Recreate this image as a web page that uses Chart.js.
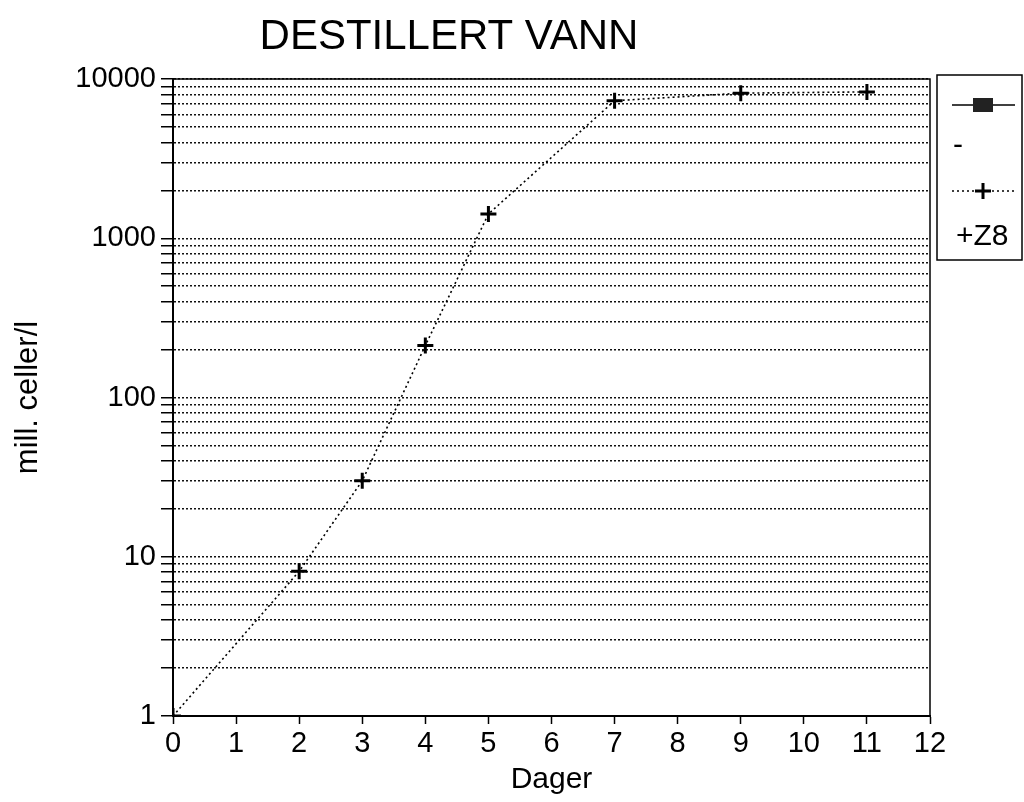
<!DOCTYPE html>
<html>
<head>
<meta charset="utf-8">
<script src="https://cdn.jsdelivr.net/npm/chart.js@4.4.0/dist/chart.umd.min.js"></script>
<style>
  html, body { margin: 0; padding: 0; background: #fff; }
  canvas { display: block; }
</style>
</head>
<body>
<canvas id="growthChart" width="1024" height="802"></canvas>
<script>
// data
const days = [0, 2, 3, 4, 5, 7, 9, 11];
const cells = [1, 8.1, 30, 212, 1420, 7300, 8150, 8300];
const xTickValues = [0, 1, 2, 3, 4, 5, 6, 7, 8, 9, 10, 11, 12];
const yTickValues = [1, 2, 3, 4, 5, 6, 7, 8, 9,
  10, 20, 30, 40, 50, 60, 70, 80, 90,
  100, 200, 300, 400, 500, 600, 700, 800, 900,
  1000, 2000, 3000, 4000, 5000, 6000, 7000, 8000, 9000, 10000];
const yLabelValues = [1, 10, 100, 1000, 10000];
const seriesNames = ['-', '+Z8'];
const chartTitle = 'DESTILLERT VANN';
const xTitle = 'Dager';
const yTitle = 'mill. celler/l';

const FONT = '"Liberation Sans", Arial, Helvetica, sans-serif';

// title + frame + the odd legend box on the right
const decorPlugin = {
  id: 'decor',
  afterDraw(chart) {
    const ctx = chart.ctx;
    const a = chart.chartArea;
    ctx.save();

    // frame around plot
    ctx.strokeStyle = '#000';
    ctx.lineWidth = 1.5;
    ctx.strokeRect(a.left, a.top, a.right - a.left, a.bottom - a.top);

    // title
    ctx.fillStyle = '#000';
    ctx.font = '42px ' + FONT;
    ctx.textAlign = 'center';
    ctx.textBaseline = 'alphabetic';
    ctx.fillText(chartTitle, 449, 49);

    // legend box
    ctx.lineWidth = 1.5;
    ctx.strokeRect(937, 75, 85, 185);

    const ds = chart.data.datasets;
    // entry 1: solid line with square
    ctx.strokeStyle = ds[0].borderColor;
    ctx.lineWidth = 1.5;
    ctx.beginPath();
    ctx.moveTo(952, 105);
    ctx.lineTo(1015, 105);
    ctx.stroke();
    ctx.fillStyle = ds[0].pointBackgroundColor;
    ctx.fillRect(973, 98, 20, 14);
    ctx.fillStyle = '#000';
    ctx.font = '30px ' + FONT;
    ctx.textAlign = 'left';
    ctx.textBaseline = 'middle';
    ctx.fillText(ds[0].label, 953, 146);

    // entry 2: dotted line with plus
    ctx.strokeStyle = '#000';
    ctx.lineWidth = 1.5;
    ctx.setLineDash([2, 3]);
    ctx.beginPath();
    ctx.moveTo(952, 191);
    ctx.lineTo(1015, 191);
    ctx.stroke();
    ctx.setLineDash([]);
    ctx.lineWidth = 3;
    ctx.beginPath();
    ctx.moveTo(975, 191); ctx.lineTo(991, 191);
    ctx.moveTo(983, 183); ctx.lineTo(983, 199);
    ctx.stroke();
    ctx.fillText(ds[1].label, 956, 237);

    ctx.restore();
  }
};

const ctx = document.getElementById('growthChart').getContext('2d');

new Chart(ctx, {
  type: 'line',
  data: {
    datasets: [
      {
        label: seriesNames[0],
        data: [],
        borderColor: '#000',
        pointBackgroundColor: '#222',
        pointStyle: 'rect'
      },
      {
        label: seriesNames[1],
        data: days.map((d, i) => ({ x: d, y: cells[i] })),
        borderColor: '#000',
        borderWidth: 1.6,
        borderDash: [2, 3],
        tension: 0,
        fill: false,
        pointStyle: 'cross',
        pointRadius: 8,
        pointBorderWidth: 3,
        pointBorderColor: '#000'
      }
    ]
  },
  options: {
    responsive: false,
    animation: false,
    layout: { padding: { left: 0, top: 79, right: 94, bottom: 0 } },
    plugins: {
      legend: { display: false },
      tooltip: { enabled: false }
    },
    scales: {
      x: {
        type: 'linear',
        min: 0,
        max: 12,
        afterBuildTicks: (scale) => {
          scale.ticks = xTickValues.map(v => ({ value: v }));
        },
        afterFit: (scale) => { scale.height = 86; },
        ticks: {
          autoSkip: false,
          maxRotation: 0,
          color: '#000',
          padding: 3,
          font: { family: FONT, size: 29 }
        },
        grid: {
          drawOnChartArea: false,
          drawTicks: true,
          tickLength: 8,
          tickColor: '#000',
          tickWidth: 1.5
        },
        border: { display: true, color: '#000', width: 2 },
        title: {
          display: true,
          text: xTitle,
          color: '#000',
          font: { family: FONT, size: 30 },
          padding: { top: 0, bottom: 4 }
        }
      },
      y: {
        type: 'logarithmic',
        min: 1,
        max: 10000,
        afterBuildTicks: (scale) => {
          scale.ticks = yTickValues.map(v => ({ value: v }));
        },
        afterFit: (scale) => { scale.width = 173; },
        ticks: {
          autoSkip: false,
          color: '#000',
          padding: 5,
          font: { family: FONT, size: 29 },
          callback: (value) => yLabelValues.includes(value) ? String(value) : ''
        },
        grid: {
          drawOnChartArea: true,
          drawTicks: true,
          tickLength: 12,
          color: '#111',
          lineWidth: 1.5,
          tickColor: '#000',
          tickWidth: 1.5
        },
        border: { display: true, color: '#000', width: 2, dash: [2, 2] },
        title: {
          display: true,
          text: yTitle,
          color: '#000',
          font: { family: FONT, size: 31 },
          padding: { top: 10, bottom: 0 }
        }
      }
    }
  },
  plugins: [decorPlugin]
});
</script>
</body>
</html>
